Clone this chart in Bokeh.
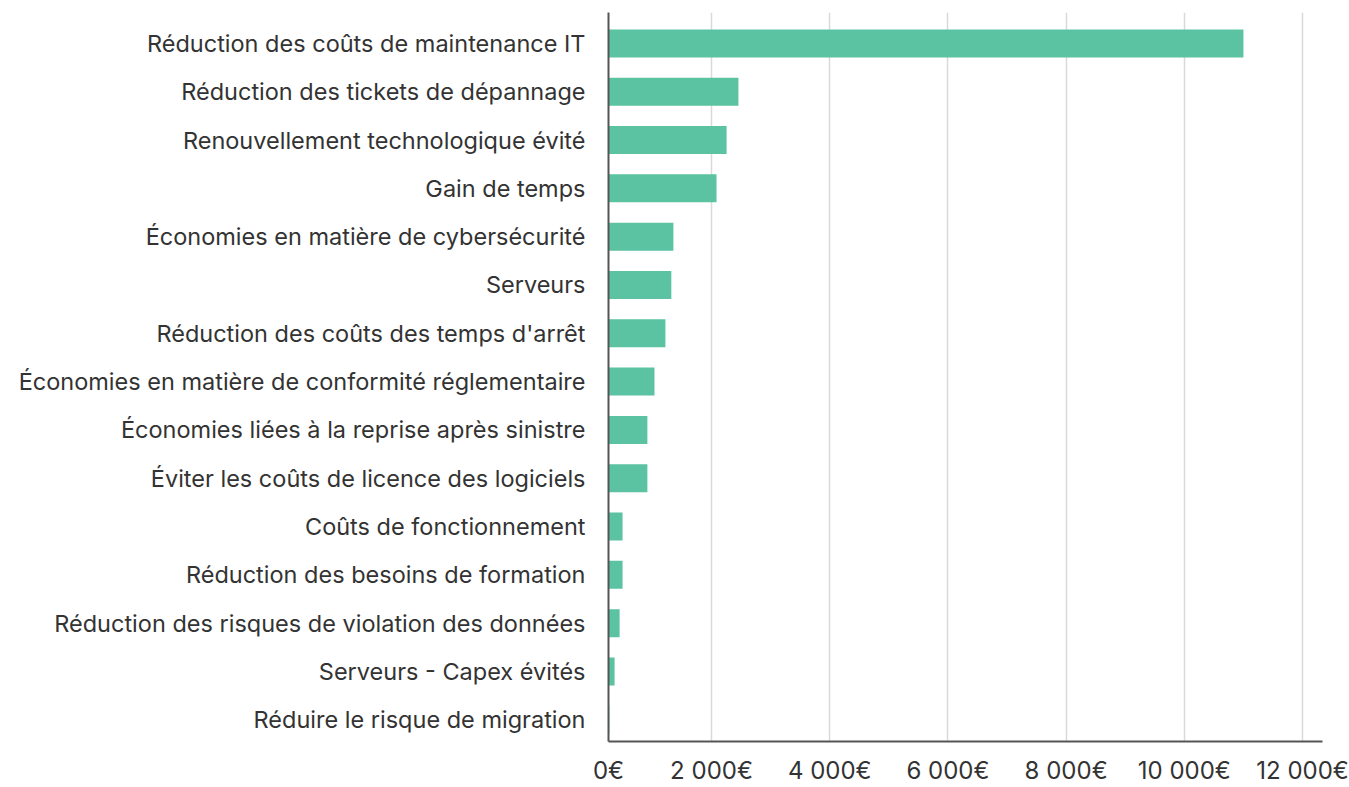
from bokeh.plotting import figure
from bokeh.models import Range1d, FixedTicker, ColumnDataSource
from bokeh.embed import file_html
from bokeh.resources import INLINE

categories = [
    "Réduction des coûts de maintenance IT",
    "Réduction des tickets de dépannage",
    "Renouvellement technologique évité",
    "Gain de temps",
    "Économies en matière de cybersécurité",
    "Serveurs",
    "Réduction des coûts des temps d'arrêt",
    "Économies en matière de conformité réglementaire",
    "Économies liées à la reprise après sinistre",
    "Éviter les coûts de licence des logiciels",
    "Coûts de fonctionnement",
    "Réduction des besoins de formation",
    "Réduction des risques de violation des données",
    "Serveurs - Capex évités",
    "Réduire le risque de migration",
]
values = [11000, 2455, 2255, 2085, 1355, 1320, 1220, 1035, 915, 915, 495, 495, 445, 360, 270]

tick_values = [257, 2000, 4000, 6000, 8000, 10000, 12000]
tick_labels = ["0€", "2 000€", "4 000€", "6 000€", "8 000€", "10 000€", "12 000€"]

n = len(categories)
ypos = [n - 1 - i for i in range(n)]
src = ColumnDataSource(dict(y=ypos, right=values, left=[0] * n, cat=categories))

FONT = "Inter"
TXT = "#333333"

p = figure(
    width=1349, height=787,
    x_range=Range1d(257, 12338),
    y_range=Range1d(-0.45, n - 0.5 + 0.14),
    output_backend="svg", toolbar_location=None,
    min_border_left=608, min_border_right=27,
    min_border_top=12, min_border_bottom=43,
)
p.hbar(y="y", left="left", right="right", height=0.58, source=src,
       fill_color="#5bc2a2", line_color=None)

p.outline_line_color = None
p.background_fill_color = "white"
p.border_fill_color = "white"

p.ygrid.grid_line_color = None
p.xgrid.grid_line_color = "#d9d9d9"
p.xgrid.grid_line_width = 1.5
p.xgrid.ticker = FixedTicker(ticks=tick_values)

xa = p.xaxis[0]
xa.ticker = FixedTicker(ticks=tick_values)
xa.major_label_overrides = {v: l for v, l in zip(tick_values, tick_labels)}
xa.major_tick_line_color = None
xa.minor_tick_line_color = None
xa.axis_line_color = "#555555"
xa.axis_line_width = 2
xa.major_label_text_font = FONT
xa.major_label_text_font_size = "24px"
xa.major_label_text_color = TXT
xa.major_label_standoff = 8

ya = p.yaxis[0]
ya.ticker = FixedTicker(ticks=ypos)
ya.major_label_overrides = {y: c for y, c in zip(ypos, categories)}
ya.major_tick_line_color = None
ya.minor_tick_line_color = None
ya.axis_line_color = "#555555"
ya.axis_line_width = 2
ya.major_label_text_font = FONT
ya.major_label_text_font_size = "23.5px"
ya.major_label_text_color = TXT
ya.major_label_standoff = 17

open("out.html", "w").write(file_html(p, INLINE))
